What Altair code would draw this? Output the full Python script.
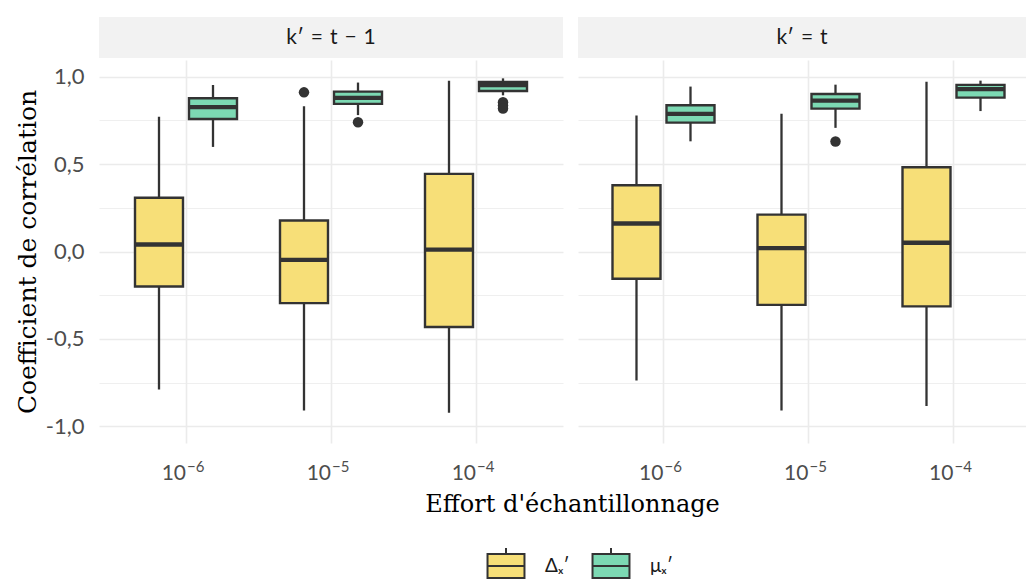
import altair as alt
import pandas as pd

PANELS = ["k′ = t − 1", "k′ = t"]
EFFORTS = ["10⁻⁶", "10⁻⁵", "10⁻⁴"]
EXPONENTS = ["−6", "−5", "−4"]
SERIES = ["Δₓ′", "μₓ′"]
COLORS = ["#F7DF78", "#7CD9B3"]

# Box statistics
box_panel = ["k′ = t − 1"] * 6 + ["k′ = t"] * 6
box_effort = ["10⁻⁶", "10⁻⁶", "10⁻⁵", "10⁻⁵", "10⁻⁴", "10⁻⁴"] * 2
box_serie = ["Δₓ′", "μₓ′"] * 6
box_lower = [-0.789, 0.598, -0.909, 0.780, -0.922, 0.893,
             -0.737, 0.630, -0.909, 0.707, -0.884, 0.803]
box_q1 = [-0.200, 0.758, -0.295, 0.844, -0.432, 0.918,
          -0.156, 0.737, -0.305, 0.817, -0.314, 0.880]
box_median = [0.040, 0.826, -0.048, 0.878, 0.011, 0.952,
              0.160, 0.787, 0.019, 0.863, 0.050, 0.928]
box_q3 = [0.307, 0.876, 0.177, 0.914, 0.444, 0.970,
          0.379, 0.836, 0.211, 0.901, 0.482, 0.953]
box_upper = [0.771, 0.952, 0.830, 0.966, 0.977, 0.990,
             0.777, 0.943, 0.787, 0.954, 0.971, 0.977]

# Outliers
out_panel = ["k′ = t − 1"] * 5 + ["k′ = t"]
out_effort = ["10⁻⁵", "10⁻⁵", "10⁻⁴", "10⁻⁴", "10⁻⁴", "10⁻⁵"]
out_serie = ["Δₓ′", "μₓ′", "μₓ′", "μₓ′", "μₓ′", "μₓ′"]
out_value = [0.910, 0.739, 0.853, 0.835, 0.818, 0.629]

Y_TICKS = [-1, -0.75, -0.5, -0.25, 0, 0.25, 0.5, 0.75, 1]

boxes = pd.DataFrame({
    "panel": box_panel, "effort": box_effort, "serie": box_serie,
    "lower": box_lower, "q1": box_q1, "median": box_median,
    "q3": box_q3, "upper": box_upper,
})
outliers = pd.DataFrame({
    "panel": out_panel, "effort": out_effort, "serie": out_serie,
    "value": out_value,
})
ticklabels = pd.DataFrame({"effort": EFFORTS, "exp": EXPONENTS, "base": ["10"] * 3})

DARK = "#333333"
GRID = "#EBEBEB"
LABEL_GREY = "#4D4D4D"
MAJOR_TEST = "abs(datum.value*2 - round(datum.value*2)) < 0.01"
H = 383

# boxplot glyph for the legend (unit = sqrt(symbolSize)/2 = 12 px)
symbol_path = ("M-1.54,-1H1.54V1H-1.54Z M-1.54,0H1.54 M0,-1V-1.5")


def make_panel(name, first, width, xscale):
    d = boxes[boxes.panel == name]
    o = outliers[outliers.panel == name]

    common_x = dict(labels=False, ticks=False, domain=False,
                    grid=True, gridColor=GRID, gridWidth=1.6)
    if first:
        xaxis = alt.Axis(
            title="Effort d'échantillonnage", titleX=473, titleY=61,
            titleAlign="center", titleBaseline="middle",
            titleFont="DejaVu Serif", titleFontSize=24,
            titleFontWeight="normal", titleColor="black",
            **common_x,
        )
        yaxis = alt.Axis(
            values=Y_TICKS, title="Coefficient de corrélation",
            titleFont="DejaVu Serif", titleFontSize=25,
            titleFontWeight="normal", titleColor="black", titlePadding=5,
            labelExpr=("abs(datum.value*2 - round(datum.value*2)) < 0.01 ? "
                       "(datum.value < 0 ? '-' : '') + "
                       "replace(format(abs(datum.value), '.1f'), '.', ',') : ''"),
            labelFont="Lato", labelFontSize=22, labelColor=LABEL_GREY,
            labelPadding=15, ticks=False, domain=False, labelOverlap=False,
            grid=True, gridColor=GRID,
            gridWidth={"condition": {"test": MAJOR_TEST, "value": 1.6}, "value": 0.8},
        )
    else:
        xaxis = alt.Axis(title=None, **common_x)
        yaxis = alt.Axis(
            values=Y_TICKS, title=None, labels=False, ticks=False,
            domain=False, grid=True, gridColor=GRID,
            gridWidth={"condition": {"test": MAJOR_TEST, "value": 1.6}, "value": 0.8},
        )

    yscale = alt.Scale(domain=[-1.095, 1.095], nice=False, zero=False)

    def X():
        return alt.X("effort:N", sort=EFFORTS, scale=xscale, axis=xaxis)

    def XO():
        return alt.XOffset("serie:N", sort=SERIES,
                           scale=alt.Scale(paddingInner=0, paddingOuter=0.3426))

    def Y(field):
        return alt.Y(f"{field}:Q", scale=yscale, axis=yaxis)

    strip_df = pd.DataFrame({"label": [name.replace(" ", "\u2004")]})
    strip = alt.Chart(strip_df).mark_rect(color="#F2F2F2").encode(
        x=alt.value(0), x2=alt.value(width), y=alt.value(-43), y2=alt.value(-2)
    )
    strip_text = alt.Chart(strip_df).mark_text(
        font="Lato", fontSize=21, color="#1A1A1A", baseline="middle"
    ).encode(x=alt.value(width / 2), y=alt.value(-22), text="label:N")

    # x tick labels: "10" with a superscript exponent
    lab_base = alt.Chart(ticklabels).mark_text(
        font="Lato", fontSize=21, color=LABEL_GREY, align="right",
        baseline="alphabetic",
    ).encode(x=X(), y=alt.value(H + 37), text="base:N")
    lab_exp = alt.Chart(ticklabels).mark_text(
        font="Lato", fontSize=15, color=LABEL_GREY, align="left",
        baseline="alphabetic", dx=1,
    ).encode(x=X(), y=alt.value(H + 29), text="exp:N")

    base = alt.Chart(d)
    whisk = base.mark_rule(color=DARK, strokeWidth=2.3).encode(
        x=X(), xOffset=XO(), y=Y("lower"), y2="upper:Q"
    )
    box = base.mark_bar(width=48, stroke=DARK, strokeWidth=2.4).encode(
        x=X(), xOffset=XO(), y=Y("q1"), y2="q3:Q",
        fill=alt.Fill(
            "serie:N", sort=SERIES,
            scale=alt.Scale(domain=SERIES, range=COLORS),
            legend=alt.Legend(
                title=None, orient="none", direction="horizontal",
                legendX=394, legendY=493,
                symbolType=symbol_path, symbolSize=576,
                symbolStrokeColor=DARK, symbolStrokeWidth=2,
                labelFont="Lato", labelFontSize=19, labelColor="#1A1A1A",
                labelOffset=26, columnPadding=18, padding=0,
            ),
        ),
    )
    med = base.mark_tick(size=48, thickness=4.3, color=DARK, opacity=1).encode(
        x=X(), xOffset=XO(), y=Y("median")
    )
    pts = alt.Chart(o).mark_circle(size=110, color=DARK, opacity=1).encode(
        x=X(), xOffset=XO(), y=Y("value")
    )
    return alt.layer(strip, strip_text, lab_base, lab_exp, whisk, box, med, pts).properties(
        width=width, height=H
    )


# left panel: step 145 px with 0.6 step of space at both ends;
# right panel is cut at the window edge, so its bands are aligned to the start
left = make_panel(PANELS[0], True, 464,
                  alt.Scale(paddingInner=0, paddingOuter=0.1))
right = make_panel(PANELS[1], False, 448,
                   alt.Scale(paddingInner=0, paddingOuter=0.0448, align=1))

chart = alt.hconcat(left, right, spacing=15, bounds="flush").resolve_scale(
    x="independent", xOffset="independent", y="independent"
).properties(
    padding={"left": 7, "top": 9, "right": 0, "bottom": 0},
    background="white",
).configure_view(stroke=None)

chart.save("out.html", embed_options={"renderer": "svg", "actions": False})
